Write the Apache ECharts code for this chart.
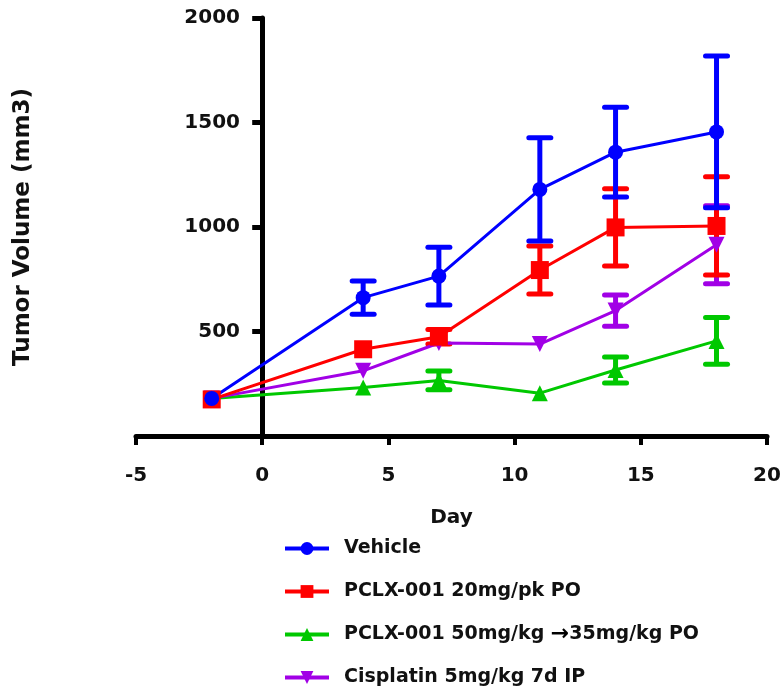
<!DOCTYPE html>
<html>
<head>
<meta charset="utf-8">
<script src="https://cdn.jsdelivr.net/npm/echarts@6/dist/echarts.min.js"></script>
<style>
html,body{margin:0;padding:0;background:#fff;}
#chart{width:781px;height:688px;}
</style>
</head>
<body>
<div id="chart"></div>
<script>
// ---- data ----
const days = [-2, 4, 7, 11, 14, 18];
const seriesNames = ['Vehicle', 'PCLX-001 20mg/pk PO', 'PCLX-001 50mg/kg \u219235mg/kg PO', 'Cisplatin 5mg/kg 7d IP'];
const vehicleMean = [180, 662, 765, 1180, 1358, 1455];
const vehicleErr  = [0, 80, 138, 247, 215, 363];
const pclx20Mean  = [175, 415, 475, 794, 998, 1005];
const pclx20Err   = [0, 0, 35, 115, 185, 235];
const pclx50Mean  = [180, 232, 266, 205, 316, 455];
const pclx50Err   = [0, 0, 45, 0, 62, 112];
const cisMean     = [180, 312, 445, 440, 600, 915];
const cisErr      = [0, 0, 0, 0, 75, 187];
const xTicks = [-5, 0, 5, 10, 15, 20];
const yTicks = [0, 500, 1000, 1500, 2000];
const yTitle = 'Tumor Volume (mm3)';

const colors = ['#0000ff', '#ff0000', '#00c800', '#a100e6'];
const FONT = 'DejaVu Sans';

function pts(mean) { return days.map((d, i) => [d, mean[i]]); }
function errPts(mean, err) { return days.map((d, i) => [d, mean[i], err[i]]); }

function errSeries(name, mean, err, color) {
  return {
    type: 'custom',
    name: name + ' err',
    silent: true,
    data: errPts(mean, err),
    encode: { x: 0, y: 1 },
    renderItem: function (params, api) {
      const x = api.value(0), y = api.value(1), e = api.value(2);
      if (!e) return null;
      const t = api.coord([x, y + e]);
      const b = api.coord([x, y - e]);
      const hw = 11;
      const st = { stroke: color, lineWidth: 5, lineCap: 'round' };
      return {
        type: 'group',
        children: [
          { type: 'line', shape: { x1: t[0], y1: t[1], x2: b[0], y2: b[1] }, style: { stroke: color, lineWidth: 5 } },
          { type: 'line', shape: { x1: t[0] - hw, y1: t[1], x2: t[0] + hw, y2: t[1] }, style: st },
          { type: 'line', shape: { x1: b[0] - hw, y1: b[1], x2: b[0] + hw, y2: b[1] }, style: st }
        ]
      };
    }
  };
}

function lineSeries(name, mean, color, symbol, size, rotate) {
  return {
    type: 'line',
    name: name,
    data: pts(mean),
    symbol: symbol,
    symbolSize: size,
    symbolRotate: rotate || 0,
    showAllSymbol: true,
    lineStyle: { color: color, width: 3 },
    itemStyle: { color: color },
    emphasis: { disabled: true }
  };
}

const chart = echarts.init(document.getElementById('chart'), null, { renderer: 'canvas' });
const option = {
  animation: false,
  backgroundColor: '#ffffff',
  grid: { left: 136, right: 14, top: 18, bottom: 252, containLabel: false, outerBoundsMode: 'none' },
  graphic: [{
    type: 'text',
    x: 23, y: 227,
    rotation: Math.PI / 2,
    silent: true,
    style: {
      text: yTitle,
      fontFamily: FONT, fontWeight: 'bold', fontSize: 23, fill: '#111',
      align: 'center', verticalAlign: 'middle'
    }
  }],
  xAxis: {
    type: 'value',
    min: xTicks[0], max: xTicks[xTicks.length - 1], interval: 5,
    name: 'Day', nameLocation: 'middle', nameGap: 72,
    nameTextStyle: { fontFamily: FONT, fontWeight: 'bold', fontSize: 20, color: '#111' },
    axisLine: { onZero: true, lineStyle: { color: '#000', width: 5 } },
    axisTick: { show: true, length: 9, lineStyle: { color: '#000', width: 4 } },
    axisLabel: { margin: 30, fontFamily: FONT, fontWeight: 'bold', fontSize: 20, color: '#111' },
    splitLine: { show: false }
  },
  yAxis: {
    type: 'value',
    min: yTicks[0], max: yTicks[yTicks.length - 1], interval: 500,
    axisLine: { onZero: true, lineStyle: { color: '#000', width: 5 } },
    axisTick: { show: true, length: 10, lineStyle: { color: '#000', width: 5 } },
    axisLabel: {
      margin: -104, fontFamily: FONT, fontWeight: 'bold', fontSize: 20, color: '#111',
      formatter: function (v) { return v === 0 ? '' : String(v); }
    },
    splitLine: { show: false }
  },
  legend: {
    data: seriesNames,
    orient: 'vertical',
    left: 283, top: 537, height: 180,
    padding: 0,
    itemWidth: 44, itemHeight: 16, itemGap: 20,
    selectedMode: false,
    lineStyle: { width: 4 },
    textStyle: {
      fontFamily: FONT, fontWeight: 'bold', fontSize: 19, color: '#111', padding: [0, 0, 0, 10], lineHeight: 23,
      rich: { a: { fontFamily: FONT, fontWeight: 'bold', fontSize: 22, color: '#000' } }
    },
    formatter: function (name) {
      if (name === seriesNames[2]) return 'PCLX-001 50mg/kg {a|\u2192}35mg/kg PO';
      return name;
    }
  },
  series: [
    errSeries(seriesNames[2], pclx50Mean, pclx50Err, colors[2]),
    lineSeries(seriesNames[2], pclx50Mean, colors[2], 'triangle', 16),
    errSeries(seriesNames[3], cisMean, cisErr, colors[3]),
    lineSeries(seriesNames[3], cisMean, colors[3], 'triangle', 16, 180),
    errSeries(seriesNames[1], pclx20Mean, pclx20Err, colors[1]),
    lineSeries(seriesNames[1], pclx20Mean, colors[1], 'rect', 18),
    errSeries(seriesNames[0], vehicleMean, vehicleErr, colors[0]),
    lineSeries(seriesNames[0], vehicleMean, colors[0], 'circle', 15)
  ]
};
chart.setOption(option);
</script>
</body>
</html>
